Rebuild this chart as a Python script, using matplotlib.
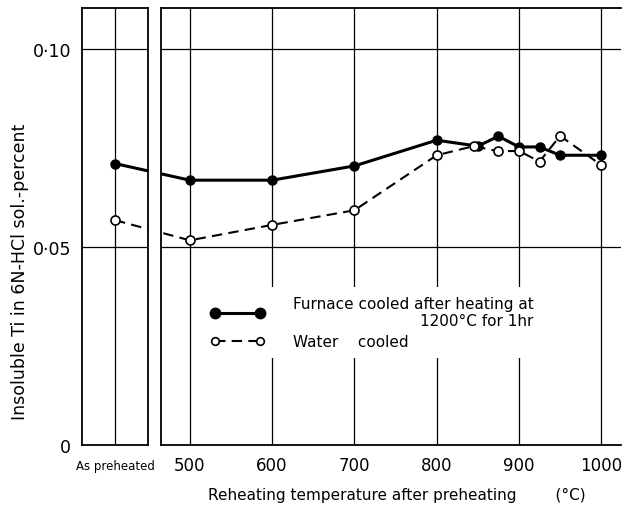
import matplotlib
matplotlib.use("Agg")
import matplotlib.pyplot as plt
import matplotlib.transforms as mtransforms
from matplotlib.lines import Line2D

# values (insoluble Ti, sol.-percent)
preheat_furnace = 0.0711
preheat_water = 0.0568

temp_furnace = [500, 600, 700, 800, 850, 875, 900, 925, 950, 1000]
ti_furnace = [0.0669, 0.0669, 0.0705, 0.0770, 0.0755, 0.0780, 0.0753, 0.0753, 0.0732, 0.0732]

temp_water = [500, 600, 700, 800, 845, 875, 900, 925, 950, 1000]
ti_water = [0.0517, 0.0556, 0.0593, 0.0732, 0.0755, 0.0742, 0.0743, 0.0716, 0.0781, 0.0707]

x_ticks = [500, 600, 700, 800, 900, 1000]
y_ticks = [0, 0.05, 0.10]
y_ticklabels = ["0", "0·05", "0·10"]

W, H = 622, 510
fig = plt.figure(figsize=(W / 100, H / 100), dpi=100)
plt.rcParams["font.family"] = ["DejaVu Sans"]

ax0 = fig.add_axes([82 / W, (H - 446) / H, 66 / W, 437 / H])
ax1 = fig.add_axes([161 / W, (H - 446) / H, 460 / W, 437 / H])

YMAX = 0.1104
ax0.set_xlim(0, 2)
ax1.set_xlim(465, 1024)
for ax in (ax0, ax1):
    ax.set_ylim(0, YMAX)
    ax.tick_params(length=0)
    for s in ax.spines.values():
        s.set_linewidth(1.3)
    for yv in y_ticks[1:]:
        ax.axhline(yv, color="black", lw=0.9, zorder=1)
ax1.spines["right"].set_visible(False)

# vertical grid
ax0.axvline(1, color="black", lw=0.9, zorder=1)
for xv in x_ticks:
    ax1.axvline(xv, color="black", lw=0.9, zorder=1)

fig.canvas.draw()


def to_other(ax_from, ax_to, x):
    """x position in ax_from data coords -> ax_to data coords."""
    disp = ax_from.transData.transform((x, 0))
    return ax_to.transData.inverted().transform(disp)[0]


solid = dict(color="black", lw=2.2, marker="o", ms=6.5, mfc="black", mec="black",
             zorder=3)
dashed = dict(color="black", lw=1.5, ls=(0, (5, 3)), marker="o", ms=6.5,
              mfc="white", mec="black", mew=1.2, zorder=3)

# left panel: as preheated point, line running across the gap to 500
x500_in_left = to_other(ax1, ax0, temp_furnace[0])
ax0.plot([1, x500_in_left], [preheat_furnace, ti_furnace[0]], markevery=[0], **solid)
ax0.plot([1, x500_in_left], [preheat_water, ti_water[0]], markevery=[0], **dashed)

# main panel
xpre_in_right = to_other(ax0, ax1, 1)
ax1.plot([xpre_in_right] + temp_furnace, [preheat_furnace] + ti_furnace,
         markevery=list(range(1, len(temp_furnace) + 1)), **solid)
ax1.plot([xpre_in_right] + temp_water, [preheat_water] + ti_water,
         markevery=list(range(1, len(temp_water) + 1)), **dashed)

# ticks and labels
ax0.set_yticks(y_ticks)
ax0.set_yticklabels(y_ticklabels, fontsize=12.5)
ax0.tick_params(axis="y", pad=8)
ax1.set_yticks([])
ax0.set_xticks([1])
ax0.set_xticklabels(["As preheated"], fontsize=8.5)
off = mtransforms.ScaledTranslation(12 / 100, 0, fig.dpi_scale_trans)
for lab in ax0.get_xticklabels():
    lab.set_transform(lab.get_transform() + off)
ax0.tick_params(axis="x", pad=10)
ax1.set_xticks(x_ticks)
ax1.set_xticklabels([str(t) for t in x_ticks], fontsize=12)
ax1.tick_params(axis="x", pad=8)

fig.text(397 / W, 1 - 495 / H, "Reheating temperature after preheating        (°C)",
         ha="center", va="center", fontsize=11)
fig.text(20 / W, 1 - 272 / H, "Insoluble Ti in 6N-HCl sol.-percent",
         ha="center", va="center", rotation=90, fontsize=12.5)

# legend (white box hides the grid behind it, as in the original)
handles = [Line2D([], [], **dict(solid, ms=7.5)),
           Line2D([], [], **dict(dashed, ms=5.5))]
leg = ax1.legend(handles,
                 ["Furnace cooled after heating at\n1200°C for 1hr",
                  "Water    cooled"],
                 loc="upper left", bbox_to_anchor=(0.07, 0.38), frameon=True,
                 fontsize=11, handlelength=3.6, numpoints=2, labelspacing=0.4,
                 handletextpad=1.8, borderpad=0.6)
leg.get_frame().set_edgecolor("none")
leg.get_frame().set_facecolor("white")
leg.get_frame().set_alpha(1)
leg.get_texts()[0].set_multialignment("right")

fig.savefig("out.png", dpi=100)
